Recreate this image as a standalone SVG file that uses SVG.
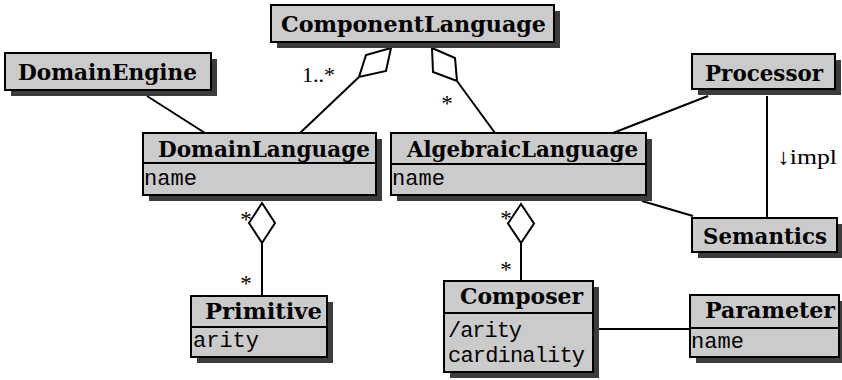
<svg xmlns="http://www.w3.org/2000/svg" width="842" height="380" viewBox="0 0 842 380">
<style>
.sh{fill:#3c3c3c}
.bx{fill:#cbcbcb;stroke:#000;stroke-width:2}
.dv{stroke:#000;stroke-width:2}
.hd{font-family:"DejaVu Serif","Liberation Serif",serif;font-weight:bold;font-size:23px;fill:#000}
.at{font-family:"Liberation Mono","DejaVu Sans Mono",monospace;font-size:22px;fill:#000}
.lb{font-family:"Liberation Serif","DejaVu Serif",serif;font-size:22px;fill:#000}
.st{font-family:"Liberation Serif","DejaVu Serif",serif;font-size:23px;fill:#000;text-anchor:middle}
.cn line{stroke:#000;stroke-width:2}
.cn polygon{fill:#fff;stroke:#000;stroke-width:2;stroke-linejoin:miter}
</style>
<rect width="842" height="380" fill="#fff"/>
<g id="connectors" class="cn">
<line x1="147" y1="96" x2="205" y2="133"/>
<line x1="359" y1="77" x2="300" y2="133"/>
<polygon points="391,48 386,71 359,77 366,55"/>
<line x1="457" y1="81" x2="495" y2="133"/>
<polygon points="432,48 455,58 457,81 433,72"/>
<line x1="708" y1="96" x2="613" y2="133"/>
<line x1="767" y1="96" x2="767" y2="218"/>
<line x1="642" y1="201" x2="693" y2="216"/>
<line x1="262" y1="243" x2="262" y2="296"/>
<polygon points="262,203 275,223 262,243 249,223"/>
<line x1="521" y1="243" x2="521" y2="281"/>
<polygon points="521,204 534,223.5 521,243 508,223.5"/>
<line x1="599" y1="329" x2="690" y2="329"/>
<text class="lb" x="302" y="82">1..*</text>
<text class="st" x="447" y="111">*</text>
<text class="st" x="246" y="227">*</text>
<text class="st" x="246" y="291">*</text>
<text class="st" x="506" y="226">*</text>
<text class="st" x="506" y="277">*</text>
<text class="lb" x="777" y="164" textLength="60" lengthAdjust="spacingAndGlyphs">↓impl</text>
</g>
<g id="ComponentLanguage">
<rect class="sh" x="277" y="11" width="283" height="37"/>
<rect class="bx" x="271" y="5" width="283" height="37"/>
<text class="hd" x="281" y="32" textLength="265" lengthAdjust="spacingAndGlyphs">ComponentLanguage</text>
</g>
<g id="DomainEngine">
<rect class="sh" x="11" y="59" width="206" height="37"/>
<rect class="bx" x="5" y="53" width="206" height="37"/>
<text class="hd" x="18" y="80" textLength="179" lengthAdjust="spacingAndGlyphs">DomainEngine</text>
</g>
<g id="DomainLanguage">
<rect class="sh" x="149" y="139" width="233" height="62"/>
<rect class="bx" x="143" y="133" width="233" height="62"/>
<line class="dv" x1="143" y1="163" x2="376" y2="163"/>
<text class="hd" x="158" y="157" textLength="212" lengthAdjust="spacingAndGlyphs">DomainLanguage</text>
<text class="at" x="144" y="185" textLength="53">name</text>
</g>
<g id="AlgebraicLanguage">
<rect class="sh" x="397" y="139" width="255" height="62"/>
<rect class="bx" x="391" y="133" width="255" height="62"/>
<line class="dv" x1="391" y1="164" x2="646" y2="164"/>
<text class="hd" x="407" y="157" textLength="231" lengthAdjust="spacingAndGlyphs">AlgebraicLanguage</text>
<text class="at" x="392" y="185" textLength="53">name</text>
</g>
<g id="Processor">
<rect class="sh" x="698" y="60" width="143" height="35"/>
<rect class="bx" x="692" y="54" width="143" height="35"/>
<text class="hd" x="705" y="81" textLength="118" lengthAdjust="spacingAndGlyphs">Processor</text>
</g>
<g id="Semantics">
<rect class="sh" x="698" y="224" width="145" height="34"/>
<rect class="bx" x="692" y="218" width="145" height="34"/>
<text class="hd" x="703" y="244" textLength="124" lengthAdjust="spacingAndGlyphs">Semantics</text>
</g>
<g id="Primitive">
<rect class="sh" x="197" y="302" width="136" height="61"/>
<rect class="bx" x="191" y="296" width="136" height="61"/>
<line class="dv" x1="191" y1="327" x2="327" y2="327"/>
<text class="hd" x="205" y="319" textLength="117" lengthAdjust="spacingAndGlyphs">Primitive</text>
<text class="at" x="193" y="347" textLength="66">arity</text>
</g>
<g id="Composer">
<rect class="sh" x="450" y="287" width="149" height="91"/>
<rect class="bx" x="444" y="281" width="149" height="91"/>
<line class="dv" x1="444" y1="313" x2="593" y2="313"/>
<text class="hd" x="460" y="304" textLength="123" lengthAdjust="spacingAndGlyphs">Composer</text>
<text class="at" x="448" y="337" textLength="74">/arity</text>
<text class="at" x="448" y="362" textLength="137">cardinality</text>
</g>
<g id="Parameter">
<rect class="sh" x="696" y="301" width="149" height="62"/>
<rect class="bx" x="690" y="295" width="149" height="62"/>
<line class="dv" x1="690" y1="328" x2="839" y2="328"/>
<text class="hd" x="705" y="318" textLength="130" lengthAdjust="spacingAndGlyphs">Parameter</text>
<text class="at" x="691" y="348" textLength="53">name</text>
</g>
</svg>
